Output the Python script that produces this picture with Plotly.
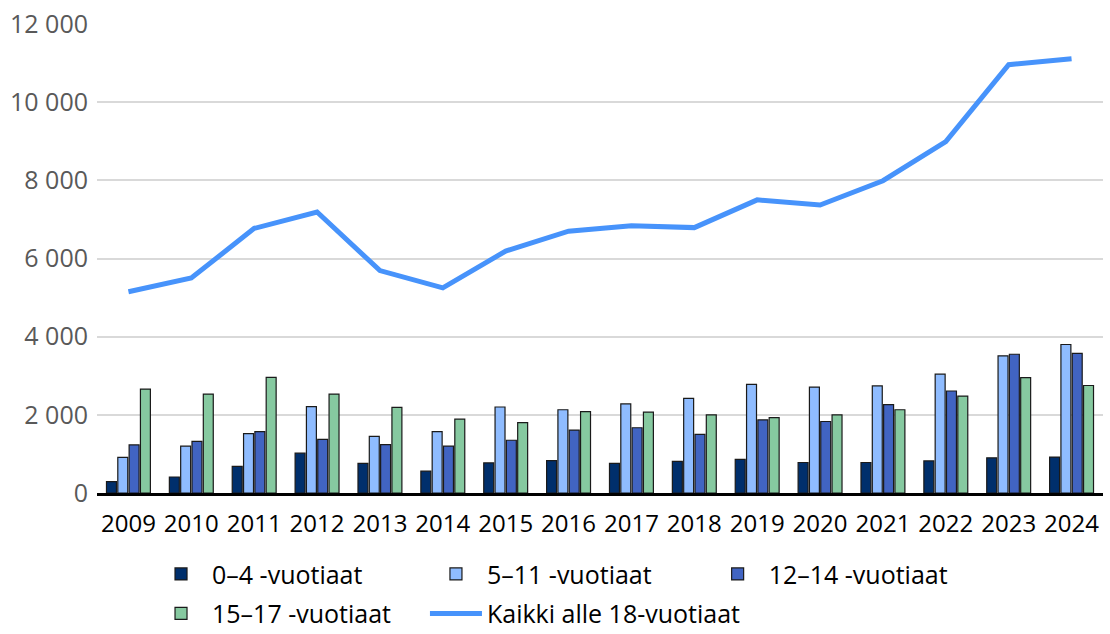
import plotly.graph_objects as go

years = [str(y) for y in range(2009, 2025)]

age_0_4 = [290, 410, 680, 1020, 760, 560, 770, 830, 760, 810, 860, 780, 780, 820, 900, 920]
age_5_11 = [910, 1200, 1520, 2210, 1450, 1570, 2200, 2130, 2280, 2420, 2780, 2710, 2740, 3040, 3510, 3800]
age_12_14 = [1230, 1320, 1570, 1370, 1240, 1200, 1350, 1610, 1670, 1500, 1870, 1830, 2260, 2610, 3550, 3570]
age_15_17 = [2660, 2530, 2960, 2530, 2190, 1890, 1800, 2080, 2070, 2000, 1930, 2000, 2130, 2480, 2950, 2750]
all_under_18 = [5150, 5500, 6770, 7190, 5690, 5250, 6190, 6700, 6840, 6790, 7500, 7370, 7990, 8990, 10960, 11110]

tick_vals = [0, 2000, 4000, 6000, 8000, 10000, 12000]
tick_text = ["0", "2 000", "4 000", "6 000", "8 000", "10 000", "12 000"]

FONT = "Open Sans"
edge = dict(color="#1a1a1a", width=1.2)

fig = go.Figure()

# pylväät ikäryhmittäin
bars = [
    ("0–4 -vuotiaat", age_0_4, "#002f6c", "legend", "a"),
    ("5–11 -vuotiaat", age_5_11, "#8fbcff", "legend2", "c"),
    ("12–14 -vuotiaat", age_12_14, "#4164c2", "legend3", "e"),
    ("15–17 -vuotiaat", age_15_17, "#86c9a0", "legend", "b"),
]
for name, vals, color, leg, grp in bars:
    fig.add_trace(go.Bar(
        x=years, y=vals, name=name,
        marker=dict(color=color, line=edge),
        legend=leg, legendgroup=grp,
    ))

# kaikki alle 18-vuotiaat
fig.add_trace(go.Scatter(
    x=years, y=all_under_18, mode="lines",
    name="Kaikki alle 18-vuotiaat",
    line=dict(color="#4793fb", width=5),
    legend="legend2", legendgroup="d",
))

leg_common = dict(
    orientation="v", yanchor="top", y=-0.124,
    font=dict(family=FONT, size=25, color="#000"),
    bgcolor="rgba(0,0,0,0)", traceorder="grouped",
    tracegroupgap=4, itemwidth=52,
)

fig.update_layout(
    width=1110, height=634,
    margin=dict(l=97, r=7, t=24, b=141, autoexpand=False),
    plot_bgcolor="white", paper_bgcolor="white",
    barmode="group", bargap=0.28, bargroupgap=0.12,
    font=dict(family=FONT),
    legend=dict(x=0.0527, **leg_common),
    legend2=dict(x=0.326, **leg_common),
    legend3=dict(x=0.606, **leg_common),
    xaxis=dict(
        type="category", automargin=False,
        showline=True, linecolor="#000", linewidth=3,
        tickfont=dict(family=FONT, size=24, color="#000"),
        ticks="", showgrid=False, ticklabelstandoff=7,
    ),
    yaxis=dict(
        range=[0, 12000], tickvals=tick_vals, ticktext=tick_text,
        tickfont=dict(family=FONT, size=25, color="#595959"),
        showgrid=True, gridcolor="#d9d9d9", gridwidth=2,
        zeroline=False, ticks="", ticklabelstandoff=8, automargin=False,
    ),
)

# selaimen oletusmarginaali pois, jotta kuva asettuu vasempaan yläkulmaan
fig.write_html(
    "out.html",
    config={"displayModeBar": False},
    post_script="document.body.style.margin='0';",
)
